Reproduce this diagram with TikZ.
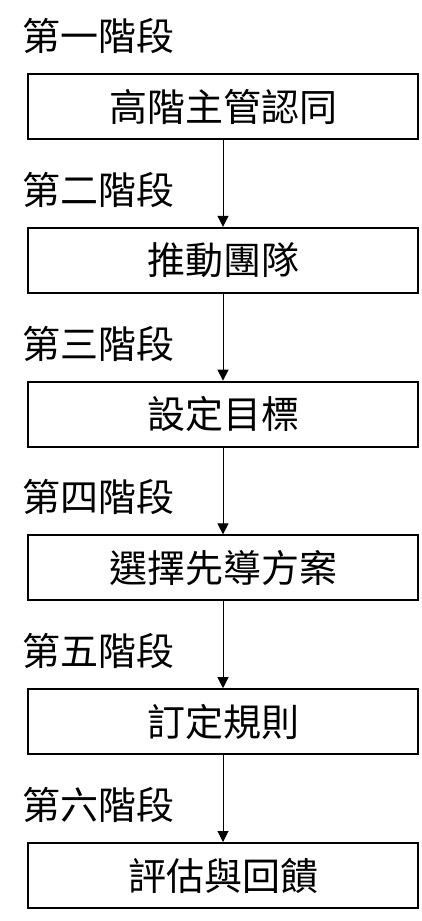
\documentclass[tikz,border=0pt]{standalone}
\usepackage{fontspec}
\newfontfamily\cjk{Noto Sans CJK TC}
\usepackage{tikz}
\usetikzlibrary{arrows.meta,positioning}
\tikzset{>={Triangle[length=11pt,width=11pt]}}
\tikzset{
  stagebox/.style={draw,line width=2pt,minimum width=390pt,minimum height=65pt,inner sep=0pt,font=\cjk\fontsize{38pt}{42pt}\selectfont},
  stagelabel/.style={anchor=west,inner sep=0pt,font=\cjk\fontsize{38pt}{42pt}\selectfont},
  flow/.style={->,line width=1pt}
}

\begin{document}
\begin{tikzpicture}[x=1pt,y=-1pt]
  \useasboundingbox (0,0) rectangle (421,921);
  % Stages
  \foreach \i/\lab/\txt in {1/第一階段/高階主管認同,2/第二階段/推動團隊,3/第三階段/設定目標,
                            4/第四階段/選擇先導方案,5/第五階段/訂定規則,6/第六階段/評估與回饋}{
    \node[stagebox] (s\i) at (223,{106.5+153.8*(\i-1)}) {\txt};
    \node[stagelabel] (l\i) at (22,{36+153.8*(\i-1)}) {\lab};
  }
  % Arrows
  \foreach \i [evaluate=\i as \j using int(\i+1)] in {1,...,5}
    \draw[flow] (s\i) -- (s\j);
\end{tikzpicture}
\end{document}
